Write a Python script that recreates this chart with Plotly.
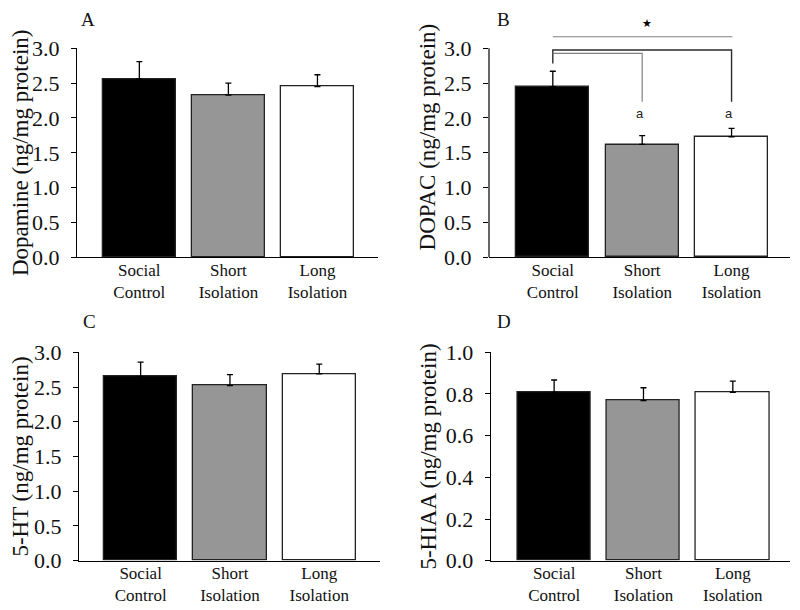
import plotly.graph_objects as go

# ---------------- data ----------------
categories = ["Social<br>Control", "Short<br>Isolation", "Long<br>Isolation"]
cat_pos = [0, 1, 2]
bar_colors = ["#000000", "#969696", "#ffffff"]

dopamine_mean = [2.56, 2.33, 2.45]
dopamine_sem = [0.25, 0.17, 0.17]

dopac_mean = [2.45, 1.62, 1.73]
dopac_sem = [0.22, 0.125, 0.12]

ht_mean = [2.65, 2.52, 2.69]
ht_sem = [0.21, 0.16, 0.14]

hiaa_mean = [0.808, 0.768, 0.808]
hiaa_sem = [0.059, 0.062, 0.054]

panel_letters = ["A", "B", "C", "D"]
y_titles = ["Dopamine (ng/mg protein)", "DOPAC (ng/mg protein)",
            "5-HT (ng/mg protein)", "5-HIAA (ng/mg protein)"]
y_ticks_3 = [0.0, 0.5, 1.0, 1.5, 2.0, 2.5, 3.0]
y_ticks_1 = [0.0, 0.2, 0.4, 0.6, 0.8, 1.0]

# significance annotations for panel B
sig_letter = "a"
sig_letter_x = [1, 2]
sig_letter_y = 2.06
sig_star = "★"

SERIF = "Liberation Serif, Times New Roman, serif"
SANS = "Liberation Sans, Arial, sans-serif"

# the page body adds an 8px offset; the figure fills the rest of the window
OFF = 8
W, H = 800 - OFF, 610 - OFF


def xdom(x0, x1):
    return [(x0 - OFF) / W, (x1 - OFF) / W]


def ydom(top, bottom):
    return [1 - (bottom - OFF) / H, 1 - (top - OFF) / H]


panels = [
    dict(ax="", means=dopamine_mean, sems=dopamine_sem, ytitle=y_titles[0],
         xdom=xdom(77, 378), ydom=ydom(48.3, 257.3), xr=[-0.70, 2.68],
         yr=[0, 3.0], ticks=y_ticks_3),
    dict(ax="2", means=dopac_mean, sems=dopac_sem, ytitle=y_titles[1],
         xdom=xdom(489, 790), ydom=ydom(16.9, 257.3), xr=[-0.714, 2.654],
         yr=[0, 3.45], ticks=y_ticks_3),
    dict(ax="3", means=ht_mean, sems=ht_sem, ytitle=y_titles[2],
         xdom=xdom(79, 380), ydom=ydom(352.3, 560.7), xr=[-0.69, 2.68],
         yr=[0, 3.0], ticks=y_ticks_3),
    dict(ax="4", means=hiaa_mean, sems=hiaa_sem, ytitle=y_titles[3],
         xdom=xdom(490.7, 790), ydom=ydom(352.3, 560.7), xr=[-0.71, 2.64],
         yr=[0, 1.0], ticks=y_ticks_1),
]

fig = go.Figure()
layout = dict(
    template="none",
    width=W, height=H,
    margin=dict(l=0, r=0, t=0, b=0, autoexpand=False),
    paper_bgcolor="white", plot_bgcolor="white",
    showlegend=False,
    font=dict(family=SERIF, color="black"),
    bargap=0,
)

for p in panels:
    a = p["ax"]
    fig.add_trace(go.Bar(
        x=cat_pos, y=p["means"], width=0.82,
        marker=dict(color=bar_colors, line=dict(color="#222222", width=1.3)),
        error_y=dict(type="data", symmetric=False, array=p["sems"],
                     arrayminus=[0, 0, 0], color="black", thickness=1.3, width=3),
        xaxis="x" + a, yaxis="y" + a, hoverinfo="skip",
    ))
    xkey = "xaxis" + a
    ykey = "yaxis" + a
    layout[xkey] = dict(
        domain=p["xdom"], range=p["xr"], anchor="y" + a, automargin=False,
        showline=True, linecolor="black", linewidth=1.2,
        ticks="", tickvals=cat_pos, ticktext=categories,
        tickfont=dict(family=SERIF, size=17, color="#111111"),
        ticklabelstandoff=-3,
        showgrid=False, zeroline=False, fixedrange=True,
    )
    layout[ykey] = dict(
        domain=p["ydom"], range=p["yr"], anchor="x" + a, automargin=False,
        showline=(a != "2"), linecolor="black", linewidth=1.2,
        ticks="outside", ticklen=5, tickwidth=1.2, tickcolor="black",
        tickvals=p["ticks"], tickformat=".1f",
        tickfont=dict(family=SERIF, size=22, color="#111111"),
        ticklabelstandoff=7,
        title=dict(text=p["ytitle"], font=dict(family=SERIF, size=23, color="#111111"),
                   standoff=2),
        showgrid=False, zeroline=False, fixedrange=True,
    )

# panel B y-axis line drawn only up to 3.0
shapes = [dict(type="line", xref="x2 domain", yref="y2", x0=0, x1=0, y0=0, y1=3.0,
               line=dict(color="black", width=1.2))]

# brackets in panel B (data coordinates of y2)
bracket_top = dict(x=[0, 2.01], y=[3.165, 3.165], color="#808080", width=1.2)
bracket_long = dict(x=[0, 0, 2, 2], y=[2.783, 2.974, 2.974, 2.232], color="#2a2a2a", width=1.4)
bracket_short = dict(x=[0, 1, 1], y=[2.927, 2.927, 2.232], color="#808080", width=1.2)
for b in (bracket_top, bracket_long, bracket_short):
    fig.add_trace(go.Scatter(x=b["x"], y=b["y"], mode="lines",
                             line=dict(color=b["color"], width=b["width"]),
                             xaxis="x2", yaxis="y2", hoverinfo="skip"))

annotations = []
for xv in sig_letter_x:
    annotations.append(dict(x=xv - 0.03, y=sig_letter_y, xref="x2", yref="y2",
                            text=sig_letter, showarrow=False,
                            font=dict(family=SANS, size=13, color="#222222")))
annotations.append(dict(x=1.05, y=3.36, xref="x2", yref="y2", text=sig_star,
                        showarrow=False, font=dict(family="DejaVu Sans", size=11, color="black")))

# panel letters: top ones anchored at the very top of the figure, lower ones centred
letter_specs = [("A", 88, 8, "top"), ("B", 503.5, 8, "top"),
                ("C", 89, 321, "middle"), ("D", 503.5, 321, "middle")]
for L, px, py, anc in letter_specs:
    annotations.append(dict(x=(px - OFF) / W, y=1 - (py - OFF) / H, xref="paper", yref="paper",
                            text=L, showarrow=False, xanchor="center", yanchor=anc,
                            borderpad=0,
                            font=dict(family=SERIF, size=19, color="#111111")))

layout["shapes"] = shapes
layout["annotations"] = annotations
fig.update_layout(**layout)
fig.write_html("out.html")
